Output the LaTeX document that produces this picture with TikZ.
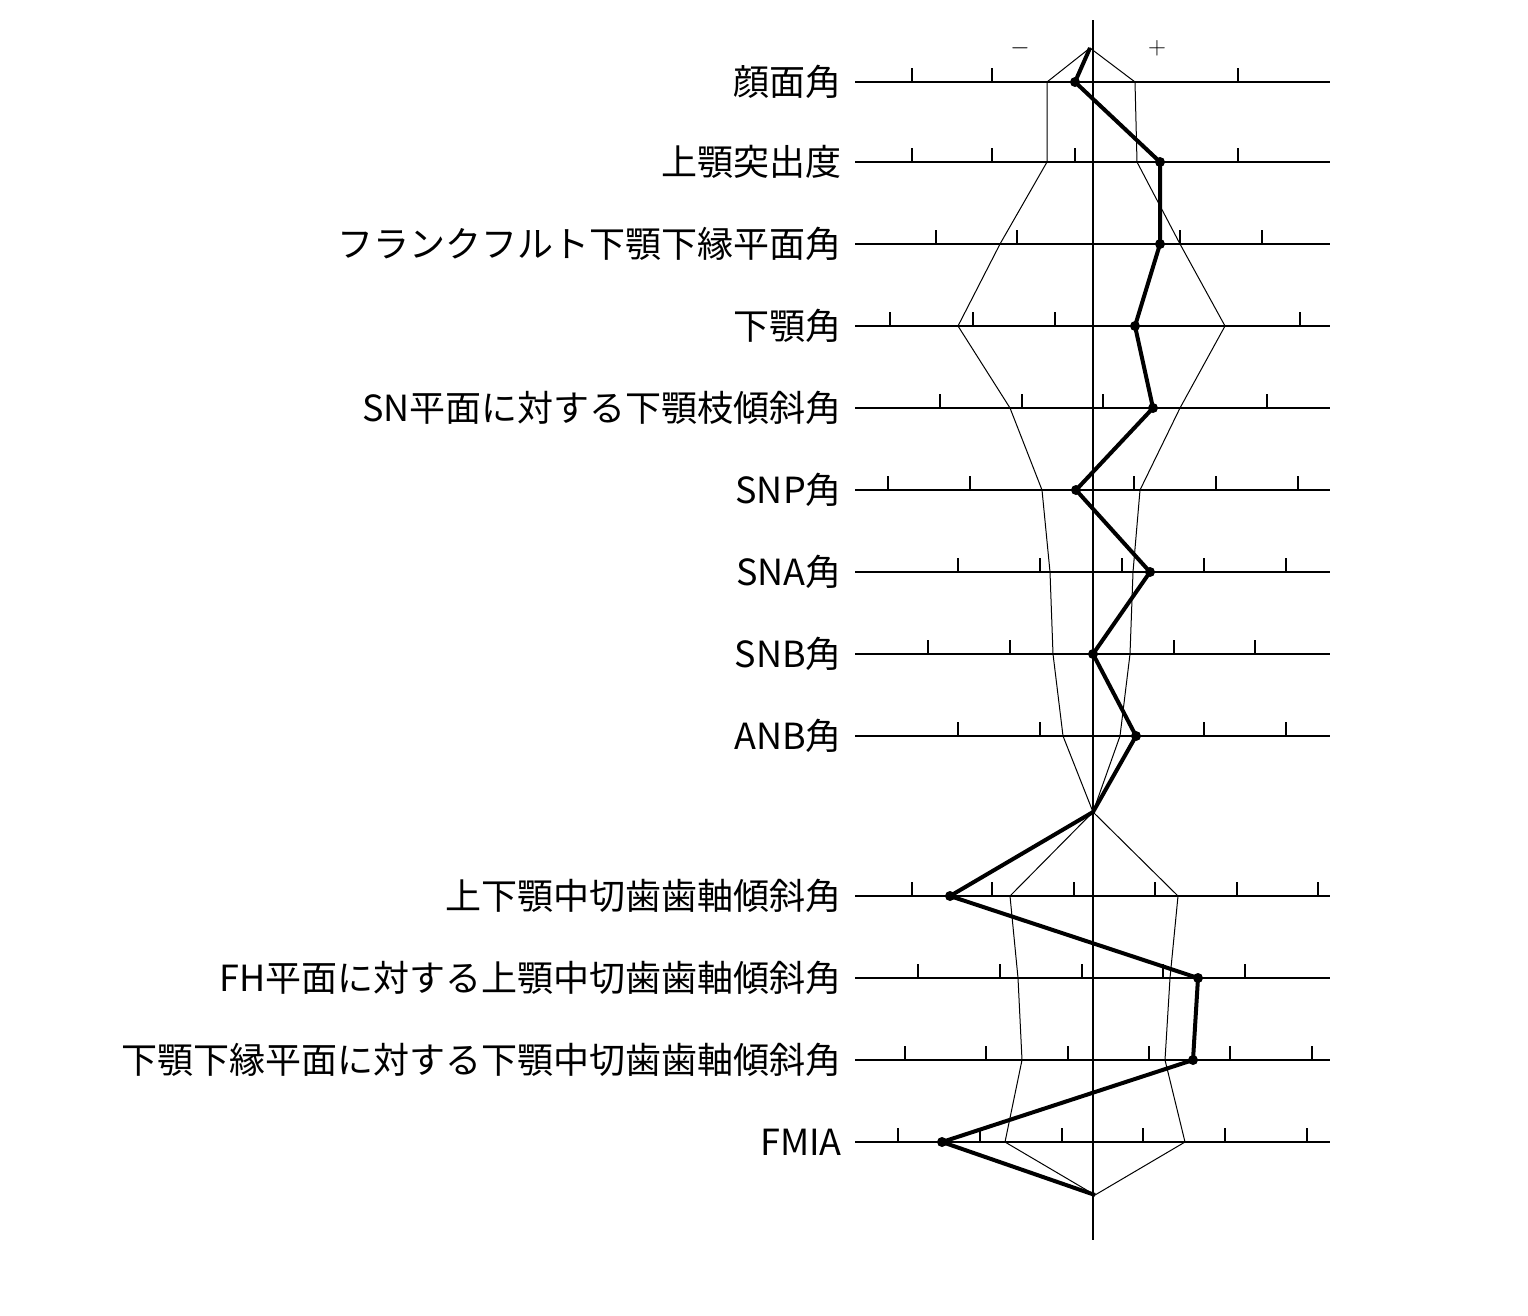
\documentclass[tikz,border=0pt]{standalone}
\usepackage{fontspec}
\newfontfamily\cjk{Noto Sans CJK JP}
\begin{document}
\begin{tikzpicture}[x=1pt,y=-1pt,
  lbl/.style={anchor=east,font=\cjk\fontsize{36}{40}\selectfont,inner sep=0pt},
  axis/.style={line width=1.6pt},
  tick/.style={line width=1.2pt},
  env/.style={line width=1pt},
  pat/.style={line width=4pt,line join=round},
  dot/.style={circle,fill=black,inner sep=0pt,minimum size=10pt}]
\useasboundingbox (0,0) rectangle (1528,1315);
\draw[axis] (1093,20) -- (1093,1240);
\node at (1020,48) {\fontsize{36}{40}\selectfont $-$};
\node at (1157,48) {\fontsize{36}{40}\selectfont $+$};
\foreach \y/\t/\ticks in {
 82/顔面角/{912,992,1238},
 162/上顎突出度/{912,992,1075,1238},
 244/フランクフルト下顎下縁平面角/{936,1017,1180,1262},
 326/下顎角/{890,973,1055,1300},
 408/SN平面に対する下顎枝傾斜角/{940,1022,1103,1267},
 490/SNP角/{888,970,1134,1216,1298},
 572/SNA角/{958,1040,1122,1204,1286},
 654/SNB角/{928,1010,1174,1255},
 736/ANB角/{958,1040,1204,1286},
 896/上下顎中切歯歯軸傾斜角/{912,992,1074,1155,1237,1318},
 978/FH平面に対する上顎中切歯歯軸傾斜角/{918,1000,1082,1163,1245},
 1060/下顎下縁平面に対する下顎中切歯歯軸傾斜角/{905,986,1068,1149,1230,1312},
 1142/FMIA/{898,980,1062,1143,1225,1307}} {
  \draw[axis] (855,\y) -- (1330,\y);
  \node[lbl] at (842,\y) {\t};
  \foreach \x in \ticks { \draw[tick] (\x,\y) -- (\x,\y-14); }
}
\coordinate (top) at (1090,48);
\coordinate (mid) at (1093,812);
\coordinate (bot) at (1095,1195);
\draw[env] (top) -- (1047,82) -- (1047,162) -- (1000,244) -- (958,326) -- (1010,408) -- (1042,490) -- (1050,572) -- (1053,654) -- (1063,736) -- (mid)
  -- (1120,736) -- (1130,654) -- (1133,572) -- (1140,490) -- (1180,408) -- (1225,326) -- (1180,244) -- (1137,162) -- (1135,82) -- cycle;
\draw[env] (mid) -- (1010,896) -- (1018,978) -- (1022,1060) -- (1005,1142) -- (bot)
  -- (1185,1142) -- (1165,1060) -- (1170,978) -- (1178,896) -- cycle;
\draw[pat] (top) -- (1075,82) -- (1160,162) -- (1160,244) -- (1135,326) -- (1153,408) -- (1076,490) -- (1150,572) -- (1093,654) -- (1136,736) -- (mid) -- (950,896) -- (1198,978) -- (1193,1060) -- (942,1142) -- (bot);
\foreach \p [count=\i] in {(1075,82),(1160,162),(1160,244),(1135,326),(1153,408),(1076,490),(1150,572),(1093,654),(1136,736),(950,896),(1198,978),(1193,1060),(942,1142)}
  \node[dot] (d\i) at \p {};
\end{tikzpicture}
\end{document}
